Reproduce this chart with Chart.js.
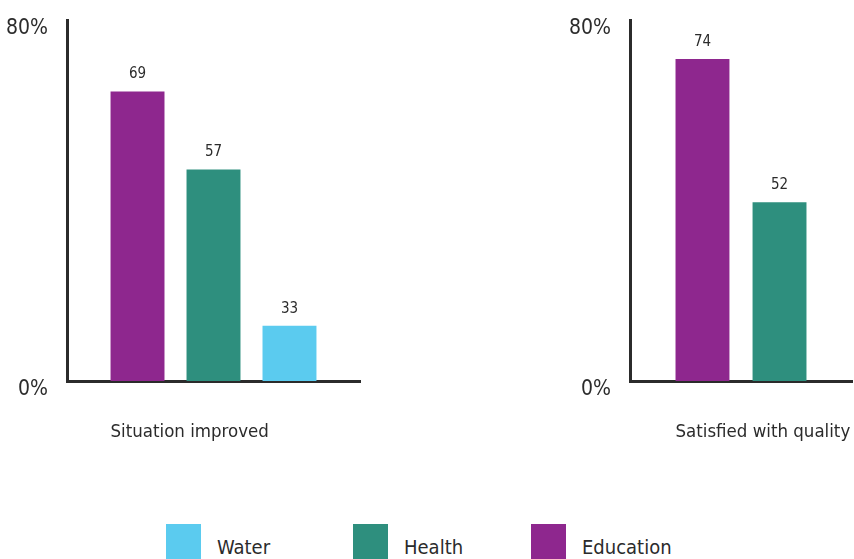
<!DOCTYPE html>
<html>
<head>
<meta charset="utf-8">
<script src="https://cdn.jsdelivr.net/npm/chart.js@4/dist/chart.umd.min.js"></script>
<style>
html,body{margin:0;padding:0;width:854px;height:559px;overflow:hidden;background:#fff;}
#w1{position:absolute;left:0;top:0;width:380px;height:470px;}
#w2{position:absolute;left:560px;top:0;width:294px;height:470px;}
.item{position:absolute;top:524px;height:35px;}
.txt{position:absolute;top:536px;white-space:nowrap;font-family:'DejaVu Sans Condensed','Liberation Sans Narrow',sans-serif;font-size:20px;line-height:22px;color:#2b2b2b;}
</style>
</head>
<body>
<div id="w1"><canvas id="c1"></canvas></div>
<div id="w2"><canvas id="c2"></canvas></div>
<div id="legend"></div>
<script>
// ---- data ----
const leftCategories = ['Situation improved'];
const rightCategories = ['Satisfied with quality'];
const leftSeries = ['Education', 'Health', 'Water'];
const leftValues = [69, 57, 33];
const rightSeries = ['Education', 'Health'];
const rightValues = [74, 52];
const yTickValues = [24.5, 80];
const yTickLabels = ['0%', '80%'];
const legendSeries = ['Water', 'Health', 'Education'];

// ---- styles ----
const COLORS = { Education: '#8e278e', Health: '#2e8f7e', Water: '#5bcbef' };
const FONT = "'DejaVu Sans Condensed','Liberation Sans Narrow',sans-serif";
const INK = '#2b2b2b';

const labelPlugin = {
  id: 'valLabels',
  afterDatasetsDraw(chart) {
    const ctx = chart.ctx;
    ctx.save();
    ctx.fillStyle = INK;
    ctx.font = '15px ' + FONT;
    ctx.textAlign = 'center';
    ctx.textBaseline = 'middle';
    chart.data.datasets.forEach((ds, i) => {
      chart.getDatasetMeta(i).data.forEach((bar, j) => {
        ctx.fillText(String(ds.data[j]), bar.x, bar.y - 17);
      });
    });
    const first = chart.getDatasetMeta(0).data[0];
    ctx.font = '18.5px ' + FONT;
    ctx.textAlign = 'left';
    ctx.textBaseline = 'alphabetic';
    ctx.fillText(chart.data.labels[0], first.x - first.width / 2, 437);
    ctx.restore();
  }
};

function makeChart(id, labels, names, values, axisWidth, padRight, catPct, barPct) {
  return new Chart(document.getElementById(id), {
    type: 'bar',
    data: {
      labels: labels,
      datasets: names.map((n, i) => ({
        label: n,
        data: [values[i]],
        backgroundColor: COLORS[n],
        categoryPercentage: catPct,
        barPercentage: barPct
      }))
    },
    options: {
      responsive: true,
      maintainAspectRatio: false,
      animation: false,
      layout: { padding: { top: 20, right: padRight, bottom: 470 - 381, left: 0 } },
      plugins: { legend: { display: false }, tooltip: { enabled: false } },
      scales: {
        x: {
          grid: { display: false, drawTicks: false },
          ticks: { display: false },
          border: { display: true, color: INK, width: 3 },
          afterFit: s => { s.height = 0; s.paddingLeft = 0; s.paddingRight = 0; }
        },
        y: {
          min: yTickValues[0],
          max: yTickValues[1],
          beginAtZero: false,
          grid: { display: false, drawTicks: false },
          border: { display: true, color: INK, width: 3 },
          afterBuildTicks: s => { s.ticks = yTickValues.map(v => ({ value: v })); },
          afterFit: s => { s.width = axisWidth; s.paddingTop = 0; s.paddingBottom = 0; },
          ticks: {
            padding: 19,
            labelOffset: 9,
            color: INK,
            font: { family: FONT, size: 21 },
            callback: (v) => yTickLabels[yTickValues.indexOf(v)]
          }
        }
      }
    },
    plugins: [labelPlugin]
  });
}

makeChart('c1', leftCategories, leftSeries, leftValues, 67, 20, 0.778, 0.71);
makeChart('c2', rightCategories, rightSeries, rightValues, 70, 2, 0.694, 0.70);

// ---- legend ----
const legendX = [166, 353, 531];
const leg = document.getElementById('legend');
legendSeries.forEach((n, i) => {
  const sw = document.createElement('div');
  sw.className = 'item';
  sw.style.left = legendX[i] + 'px';
  sw.style.width = '35px';
  sw.style.background = COLORS[n];
  leg.appendChild(sw);
  const t = document.createElement('div');
  t.className = 'txt';
  t.style.left = (legendX[i] + 51) + 'px';
  t.textContent = n;
  leg.appendChild(t);
});
</script>
</body>
</html>
